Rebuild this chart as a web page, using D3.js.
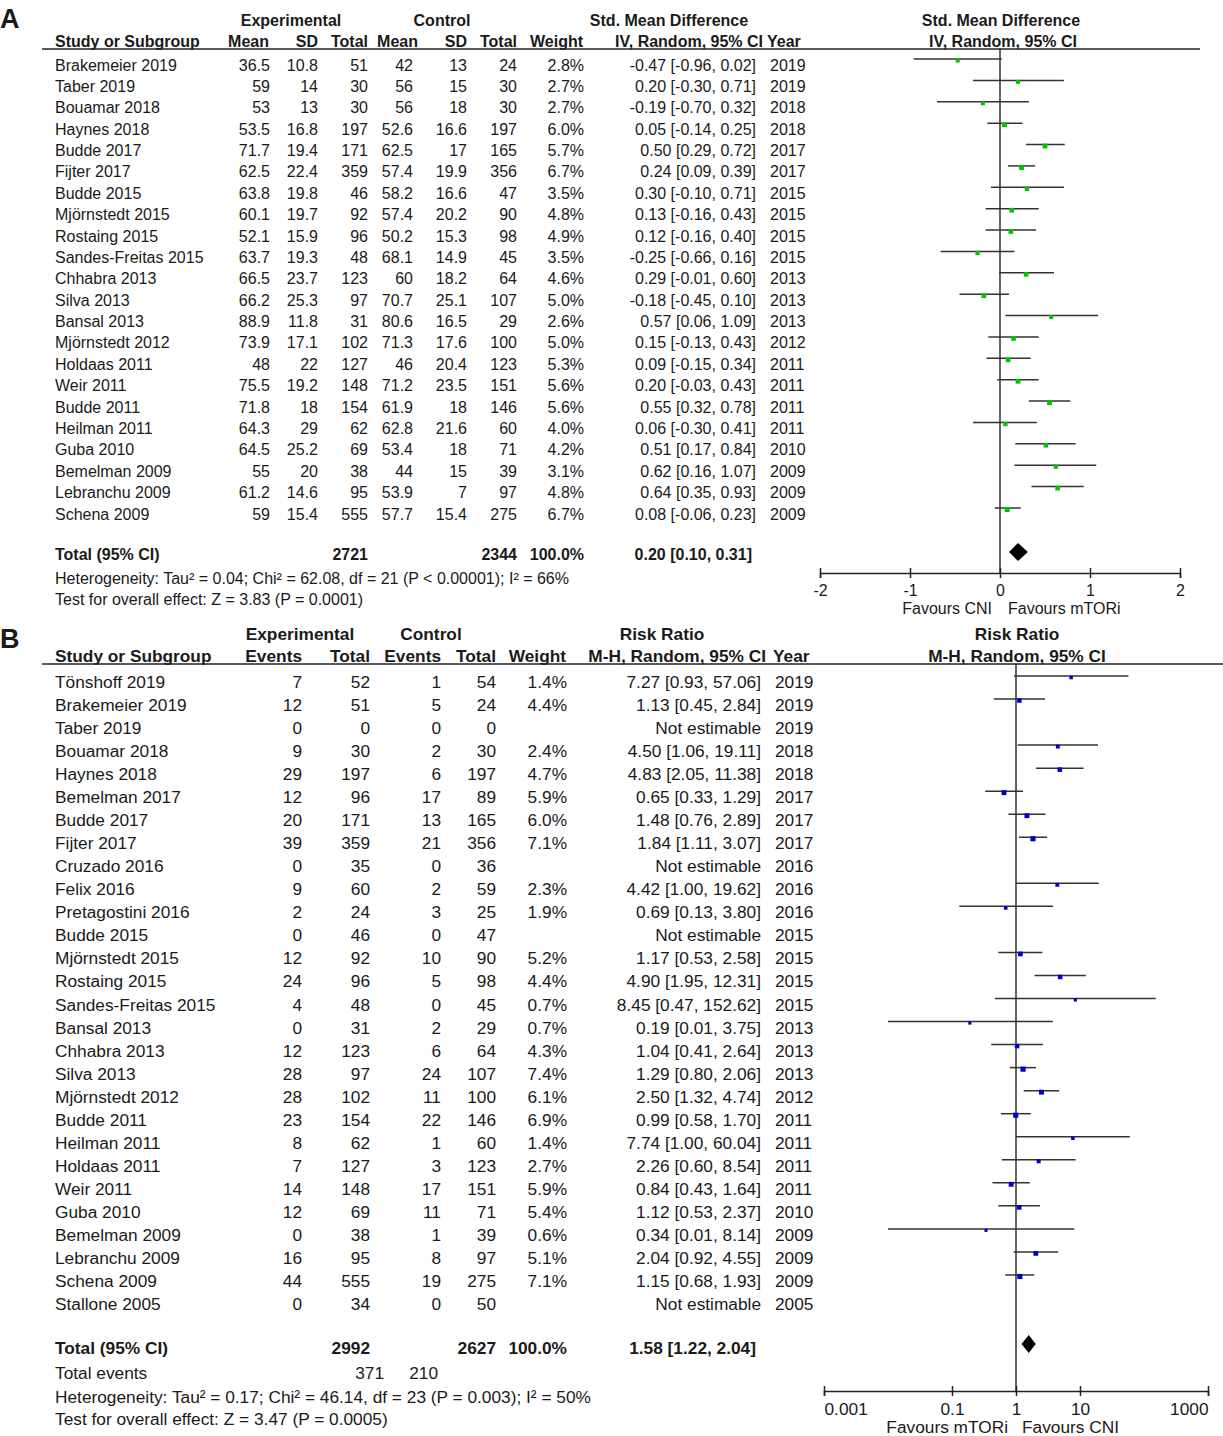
<!DOCTYPE html>
<html>
<head>
<meta charset="utf-8">
<script src="https://d3js.org/d3.v7.min.js"></script>
<style>
body { margin: 0; background: #fff; }
text { font-family: "Liberation Sans", Arial, sans-serif; fill: #1a1a1a; }
.b { font-weight: bold; }
</style>
</head>
<body>
<script>
// ---- panel A: continuous outcome (std. mean difference) ----
var studiesA = ["Brakemeier 2019", "Taber 2019", "Bouamar 2018", "Haynes 2018", "Budde 2017", "Fijter 2017",
    "Budde 2015", "Mjörnstedt 2015", "Rostaing 2015", "Sandes-Freitas 2015", "Chhabra 2013", "Silva 2013",
    "Bansal 2013", "Mjörnstedt 2012", "Holdaas 2011", "Weir 2011", "Budde 2011", "Heilman 2011",
    "Guba 2010", "Bemelman 2009", "Lebranchu 2009", "Schena 2009"];
var meanExpA = [36.5, 59, 53, 53.5, 71.7, 62.5, 63.8, 60.1, 52.1, 63.7, 66.5, 66.2, 88.9, 73.9, 48, 75.5, 71.8, 64.3, 64.5, 55, 61.2, 59];
var sdExpA = [10.8, 14, 13, 16.8, 19.4, 22.4, 19.8, 19.7, 15.9, 19.3, 23.7, 25.3, 11.8, 17.1, 22, 19.2, 18, 29, 25.2, 20, 14.6, 15.4];
var totExpA = [51, 30, 30, 197, 171, 359, 46, 92, 96, 48, 123, 97, 31, 102, 127, 148, 154, 62, 69, 38, 95, 555];
var meanCtlA = [42, 56, 56, 52.6, 62.5, 57.4, 58.2, 57.4, 50.2, 68.1, 60, 70.7, 80.6, 71.3, 46, 71.2, 61.9, 62.8, 53.4, 44, 53.9, 57.7];
var sdCtlA = [13, 15, 18, 16.6, 17, 19.9, 16.6, 20.2, 15.3, 14.9, 18.2, 25.1, 16.5, 17.6, 20.4, 23.5, 18, 21.6, 18, 15, 7, 15.4];
var totCtlA = [24, 30, 30, 197, 165, 356, 47, 90, 98, 45, 64, 107, 29, 100, 123, 151, 146, 60, 71, 39, 97, 275];
var weightA = [2.8, 2.7, 2.7, 6.0, 5.7, 6.7, 3.5, 4.8, 4.9, 3.5, 4.6, 5.0, 2.6, 5.0, 5.3, 5.6, 5.6, 4.0, 4.2, 3.1, 4.8, 6.7];
var smdA = [-0.47, 0.20, -0.19, 0.05, 0.50, 0.24, 0.30, 0.13, 0.12, -0.25, 0.29, -0.18, 0.57, 0.15, 0.09, 0.20, 0.55, 0.06, 0.51, 0.62, 0.64, 0.08];
var loA = [-0.96, -0.30, -0.70, -0.14, 0.29, 0.09, -0.10, -0.16, -0.16, -0.66, -0.01, -0.45, 0.06, -0.13, -0.15, -0.03, 0.32, -0.30, 0.17, 0.16, 0.35, -0.06];
var hiA = [0.02, 0.71, 0.32, 0.25, 0.72, 0.39, 0.71, 0.43, 0.40, 0.16, 0.60, 0.10, 1.09, 0.43, 0.34, 0.43, 0.78, 0.41, 0.84, 1.07, 0.93, 0.23];
var yearA = [2019, 2019, 2018, 2018, 2017, 2017, 2015, 2015, 2015, 2015, 2013, 2013, 2013, 2012, 2011, 2011, 2011, 2011, 2010, 2009, 2009, 2009];
var totalA = { exp: 2721, ctl: 2344, est: 0.20, lo: 0.10, hi: 0.31 };
var ticksA = [-2, -1, 0, 1, 2];

// ---- panel B: dichotomous outcome (risk ratio) ----
var studiesB = ["Tönshoff 2019", "Brakemeier 2019", "Taber 2019", "Bouamar 2018", "Haynes 2018", "Bemelman 2017",
    "Budde 2017", "Fijter 2017", "Cruzado 2016", "Felix 2016", "Pretagostini 2016", "Budde 2015",
    "Mjörnstedt 2015", "Rostaing 2015", "Sandes-Freitas 2015", "Bansal 2013", "Chhabra 2013", "Silva 2013",
    "Mjörnstedt 2012", "Budde 2011", "Heilman 2011", "Holdaas 2011", "Weir 2011", "Guba 2010",
    "Bemelman 2009", "Lebranchu 2009", "Schena 2009", "Stallone 2005"];
var evExpB = [7, 12, 0, 9, 29, 12, 20, 39, 0, 9, 2, 0, 12, 24, 4, 0, 12, 28, 28, 23, 8, 7, 14, 12, 0, 16, 44, 0];
var totExpB = [52, 51, 0, 30, 197, 96, 171, 359, 35, 60, 24, 46, 92, 96, 48, 31, 123, 97, 102, 154, 62, 127, 148, 69, 38, 95, 555, 34];
var evCtlB = [1, 5, 0, 2, 6, 17, 13, 21, 0, 2, 3, 0, 10, 5, 0, 2, 6, 24, 11, 22, 1, 3, 17, 11, 1, 8, 19, 0];
var totCtlB = [54, 24, 0, 30, 197, 89, 165, 356, 36, 59, 25, 47, 90, 98, 45, 29, 64, 107, 100, 146, 60, 123, 151, 71, 39, 97, 275, 50];
var weightB = [1.4, 4.4, null, 2.4, 4.7, 5.9, 6.0, 7.1, null, 2.3, 1.9, null, 5.2, 4.4, 0.7, 0.7, 4.3, 7.4, 6.1, 6.9, 1.4, 2.7, 5.9, 5.4, 0.6, 5.1, 7.1, null];
var rrB = [7.27, 1.13, null, 4.50, 4.83, 0.65, 1.48, 1.84, null, 4.42, 0.69, null, 1.17, 4.90, 8.45, 0.19, 1.04, 1.29, 2.50, 0.99, 7.74, 2.26, 0.84, 1.12, 0.34, 2.04, 1.15, null];
var loB = [0.93, 0.45, null, 1.06, 2.05, 0.33, 0.76, 1.11, null, 1.00, 0.13, null, 0.53, 1.95, 0.47, 0.01, 0.41, 0.80, 1.32, 0.58, 1.00, 0.60, 0.43, 0.53, 0.01, 0.92, 0.68, null];
var hiB = [57.06, 2.84, null, 19.11, 11.38, 1.29, 2.89, 3.07, null, 19.62, 3.80, null, 2.58, 12.31, 152.62, 3.75, 2.64, 2.06, 4.74, 1.70, 60.04, 8.54, 1.64, 2.37, 8.14, 4.55, 1.93, null];
var yearB = [2019, 2019, 2019, 2018, 2018, 2017, 2017, 2017, 2016, 2016, 2016, 2015, 2015, 2015, 2015, 2013, 2013, 2013, 2012, 2011, 2011, 2011, 2011, 2010, 2009, 2009, 2009, 2005];
var totalB = { exp: 2992, ctl: 2627, evExp: 371, evCtl: 210, est: 1.58, lo: 1.22, hi: 2.04 };
var ticksB = [0.001, 0.1, 1, 10, 1000];

var width = 1223, height = 1436;
//plain hyphen for negatives, like the original
var f2 = d3.formatLocale({ decimal: ".", thousands: ",", grouping: [3], currency: ["", ""], minus: "-" }).format(".2f");

var svg = d3.select("body").append("svg")
    .attr("width", width)
    .attr("height", height);

//helper to write one text item
function txt(g, x, y, s, anchor, size, bold){
    return g.append("text")
        .attr("x", x).attr("y", y)
        .attr("text-anchor", anchor || "start")
        .attr("font-size", size)
        .attr("class", bold ? "b" : null)
        .text(s);
}

//draw CI lines, squares, diamond, axis
function drawForest(g, x, y, est, lo, hi, weight, color, n, lineTop, axisY, ticks, tickFmt, total, diamondY, fs, edgeLabels){
    var idx = d3.range(n).filter(function(i){ return est[i] !== null; });
    var nullVal = ticks[0] < 0 ? 0 : 1;

    g.append("line")
        .attr("x1", x(nullVal)).attr("x2", x(nullVal))
        .attr("y1", lineTop).attr("y2", axisY)
        .attr("stroke", "#111").attr("stroke-width", 1.3);

    g.selectAll(".ci").data(idx).enter().append("line")
        .attr("x1", function(i){ return x(lo[i]); })
        .attr("x2", function(i){ return x(hi[i]); })
        .attr("y1", function(i){ return y(i) - 6; })
        .attr("y2", function(i){ return y(i) - 6; })
        .attr("stroke", "#333").attr("stroke-width", 1.5);

    var side = function(i){ return 2.2 + Math.sqrt(weight[i]) * 1.1; };
    g.selectAll(".sq").data(idx).enter().append("rect")
        .attr("width", side)
        .attr("height", side)
        .attr("x", function(i){ return x(est[i]) - side(i) / 2; })
        .attr("y", function(i){ return y(i) - 4.5 - side(i) / 2; })
        .attr("fill", color);

    g.append("path")
        .attr("d", d3.line()([[x(total.lo), diamondY], [x(total.est), diamondY - 9], [x(total.hi), diamondY], [x(total.est), diamondY + 9]]) + "Z")
        .attr("fill", "#000");

    var axis = g.append("g")
        .attr("transform", "translate(0," + axisY + ")")
        .call(d3.axisBottom(x).tickValues(ticks).tickFormat(tickFmt).tickSizeOuter(0).tickSize(5).tickPadding(7));
    axis.select(".domain").attr("stroke", "#222").attr("stroke-width", 1.5);
    axis.selectAll(".tick line").attr("y1", -5).attr("stroke", "#222").attr("stroke-width", 1.5);
    axis.selectAll(".tick text").attr("font-size", fs).attr("fill", "#1a1a1a")
        .attr("font-family", "Liberation Sans, Arial, sans-serif");
    if (edgeLabels) {
        //end labels sit inside the axis, as in the original
        axis.selectAll(".tick text")
            .attr("text-anchor", function(d, i){ return i === 0 ? "start" : (i === ticks.length - 1 ? "end" : "middle"); });
    }
}

// ================= PANEL A =================
var gA = svg.append("g");
var xA = d3.scaleLinear().domain([-2, 2]).range([820, 1180]);
var yA = d3.scaleLinear().domain([0, studiesA.length - 1]).range([65, 514]);
var fsA = 16;

txt(gA, 0, 28, "A", "start", 27, true);
txt(gA, 291, 26, "Experimental", "middle", fsA, true);
txt(gA, 442, 26, "Control", "middle", fsA, true);
txt(gA, 669, 26, "Std. Mean Difference", "middle", fsA, true);
txt(gA, 1001, 26, "Std. Mean Difference", "middle", fsA, true);

var headA = [[55, "Study or Subgroup", "start"], [269, "Mean", "end"], [318, "SD", "end"], [368, "Total", "end"],
    [418, "Mean", "end"], [467, "SD", "end"], [517, "Total", "end"], [583, "Weight", "end"],
    [763, "IV, Random, 95% CI", "end"], [767, "Year", "start"], [1003, "IV, Random, 95% CI", "middle"]];
headA.forEach(function(h){ txt(gA, h[0], 47, h[1], h[2], fsA, true); });
gA.append("line").attr("x1", 42).attr("x2", 1200).attr("y1", 49).attr("y2", 49)
    .attr("stroke", "#222").attr("stroke-width", 1.5);

studiesA.forEach(function(s, i){
    var yb = yA(i) + 5.5;
    txt(gA, 55, yb, s, "start", fsA);
    txt(gA, 270, yb, meanExpA[i], "end", fsA);
    txt(gA, 318, yb, sdExpA[i], "end", fsA);
    txt(gA, 368, yb, totExpA[i], "end", fsA);
    txt(gA, 413, yb, meanCtlA[i], "end", fsA);
    txt(gA, 467, yb, sdCtlA[i], "end", fsA);
    txt(gA, 517, yb, totCtlA[i], "end", fsA);
    txt(gA, 584, yb, weightA[i].toFixed(1) + "%", "end", fsA);
    txt(gA, 756, yb, f2(smdA[i]) + " [" + f2(loA[i]) + ", " + f2(hiA[i]) + "]", "end", fsA);
    txt(gA, 770, yb, yearA[i], "start", fsA);
});

txt(gA, 55, 560, "Total (95% CI)", "start", fsA, true);
txt(gA, 368, 560, totalA.exp, "end", fsA, true);
txt(gA, 517, 560, totalA.ctl, "end", fsA, true);
txt(gA, 584, 560, "100.0%", "end", fsA, true);
txt(gA, 752, 560, f2(totalA.est) + " [" + f2(totalA.lo) + ", " + f2(totalA.hi) + "]", "end", fsA, true);
txt(gA, 55, 584, "Heterogeneity: Tau² = 0.04; Chi² = 62.08, df = 21 (P < 0.00001); I² = 66%", "start", fsA);
txt(gA, 55, 605, "Test for overall effect: Z = 3.83 (P = 0.0001)", "start", fsA);

drawForest(gA, xA, yA, smdA, loA, hiA, weightA, "#00c400", studiesA.length, 49, 573, ticksA,
    function(d){ return d < 0 ? "-" + Math.abs(d) : d; }, totalA, 552, fsA, false);
txt(gA, 992, 614, "Favours CNI", "end", fsA);
txt(gA, 1008, 614, "Favours mTORi", "start", fsA);

// ================= PANEL B =================
var gB = svg.append("g");
var xB = d3.scaleLog().domain([0.001, 1000]).range([824, 1208]);
var yB = d3.scaleLinear().domain([0, studiesB.length - 1]).range([682, 1304]);
var fsB = 17.3;

txt(gB, 0, 648, "B", "start", 27, true);
txt(gB, 300, 640, "Experimental", "middle", fsB, true);
txt(gB, 431, 640, "Control", "middle", fsB, true);
txt(gB, 662, 640, "Risk Ratio", "middle", fsB, true);
txt(gB, 1017, 640, "Risk Ratio", "middle", fsB, true);

var headB = [[55, "Study or Subgroup", "start"], [302, "Events", "end"], [370, "Total", "end"],
    [441, "Events", "end"], [496, "Total", "end"], [566, "Weight", "end"],
    [766, "M-H, Random, 95% CI", "end"], [773, "Year", "start"], [1017, "M-H, Random, 95% CI", "middle"]];
headB.forEach(function(h){ txt(gB, h[0], 662, h[1], h[2], fsB, true); });
gB.append("line").attr("x1", 42).attr("x2", 1223).attr("y1", 664).attr("y2", 664)
    .attr("stroke", "#222").attr("stroke-width", 1.5);

studiesB.forEach(function(s, i){
    var yb = yB(i) + 6;
    txt(gB, 55, yb, s, "start", fsB);
    txt(gB, 302, yb, evExpB[i], "end", fsB);
    txt(gB, 370, yb, totExpB[i], "end", fsB);
    txt(gB, 441, yb, evCtlB[i], "end", fsB);
    txt(gB, 496, yb, totCtlB[i], "end", fsB);
    if (weightB[i] !== null) txt(gB, 567, yb, weightB[i].toFixed(1) + "%", "end", fsB);
    txt(gB, 761, yb, rrB[i] === null ? "Not estimable" :
        f2(rrB[i]) + " [" + f2(loB[i]) + ", " + f2(hiB[i]) + "]", "end", fsB);
    txt(gB, 775, yb, yearB[i], "start", fsB);
});

txt(gB, 55, 1354, "Total (95% CI)", "start", fsB, true);
txt(gB, 370, 1354, totalB.exp, "end", fsB, true);
txt(gB, 496, 1354, totalB.ctl, "end", fsB, true);
txt(gB, 567, 1354, "100.0%", "end", fsB, true);
txt(gB, 756, 1354, f2(totalB.est) + " [" + f2(totalB.lo) + ", " + f2(totalB.hi) + "]", "end", fsB, true);
txt(gB, 55, 1379, "Total events", "start", fsB);
txt(gB, 384, 1379, totalB.evExp, "end", fsB);
txt(gB, 438, 1379, totalB.evCtl, "end", fsB);
txt(gB, 55, 1403, "Heterogeneity: Tau² = 0.17; Chi² = 46.14, df = 23 (P = 0.003); I² = 50%", "start", fsB);
txt(gB, 55, 1425, "Test for overall effect: Z = 3.47 (P = 0.0005)", "start", fsB);

drawForest(gB, xB, yB, rrB, loB, hiB, weightB, "#0000c8", studiesB.length, 664, 1391, ticksB,
    function(d){ return String(d); }, totalB, 1344, fsB, true);
txt(gB, 1008, 1433, "Favours mTORi", "end", fsB);
txt(gB, 1022, 1433, "Favours CNI", "start", fsB);
</script>
</body>
</html>
